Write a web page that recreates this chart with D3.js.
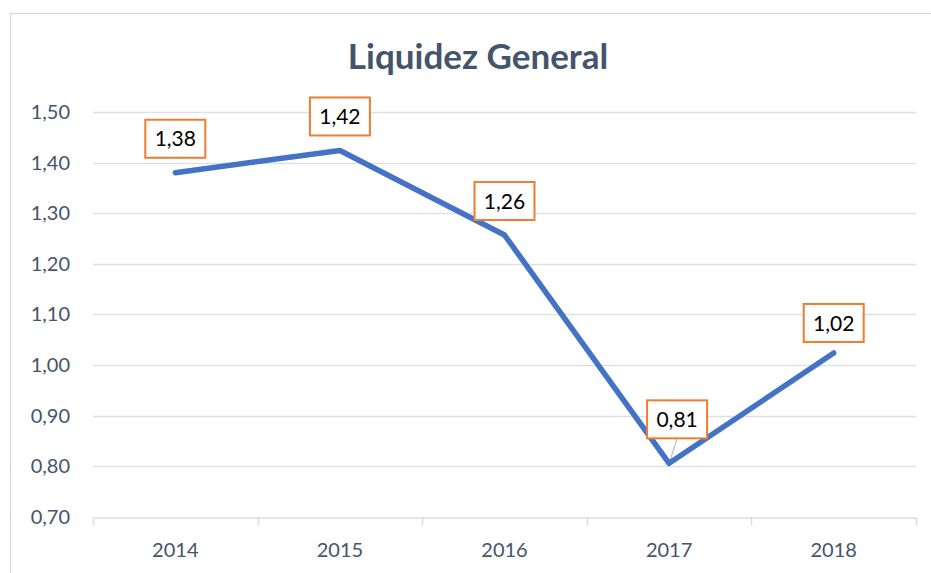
<!DOCTYPE html>
<html><head><meta charset="utf-8">
<script src="https://cdn.jsdelivr.net/npm/d3@7"></script>
<style>html,body{margin:0;padding:0;background:#fff;}svg{display:block;}</style>
</head><body>
<svg id="c" width="931" height="573"></svg>
<script>
const categories = ["2014","2015","2016","2017","2018"];
const values = [1.38, 1.424, 1.257, 0.806, 1.024];
const labels = ["1,38","1,42","1,26","0,81","1,02"];
const yTicks = [0.7,0.8,0.9,1.0,1.1,1.2,1.3,1.4,1.5];
const title = "Liquidez General";

const svg = d3.select("#c");
const m = {left: 93, right: 916, top: 112, bottom: 517};
const fmt = v => d3.format(".2f")(v).replace(".", ",");
const FONT = "Lato, 'Open Sans', sans-serif";

svg.append("rect").attr("x",10.5).attr("y",13.5).attr("width",960).attr("height",620)
  .attr("fill","#fff").attr("stroke","#D9DDE3").attr("stroke-width",1.5);

const x = d3.scaleBand().domain(categories).range([m.left, m.right]);
const y = d3.scaleLinear().domain([0.7,1.5]).range([m.bottom, m.top]);

svg.append("text").attr("x",478).attr("y",69).attr("text-anchor","middle")
  .attr("font-family",FONT).attr("font-weight","bold")
  .attr("font-size",35).attr("fill","#44546A").text(title);

// gridlines
svg.append("g").selectAll("line").data(yTicks.filter(t=>t>0.7)).join("line")
  .attr("x1",m.left).attr("x2",m.right)
  .attr("y1",d=>Math.round(y(d))+0.5).attr("y2",d=>Math.round(y(d))+0.5)
  .attr("stroke","#DDE1E7").attr("stroke-width",1.5);

// y axis labels
const yAxis = d3.axisLeft(y).tickValues(yTicks).tickFormat(fmt).tickSize(0).tickPadding(23);
const ya = svg.append("g").attr("transform",`translate(${m.left},0)`).call(yAxis);
ya.select(".domain").remove();
ya.selectAll("text").attr("font-family",FONT).attr("font-size",20).attr("fill","#44546A");

// x axis
const xAxis = d3.axisBottom(x).tickSize(0).tickPadding(25);
const xa = svg.append("g").attr("transform",`translate(0,${Math.round(m.bottom)+0.5})`).call(xAxis);
xa.select(".domain").attr("stroke","#D9DDE3").attr("stroke-width",1.5);
xa.selectAll("text").attr("font-family",FONT).attr("font-size",20).attr("fill","#44546A");
const edges = categories.map(c=>x(c)).concat([x(categories[categories.length-1])+x.bandwidth()]);
xa.selectAll("line.edge").data(edges).join("line").attr("class","edge")
  .attr("x1",d=>Math.round(d)+0.5).attr("x2",d=>Math.round(d)+0.5).attr("y1",0).attr("y2",8)
  .attr("stroke","#D9DDE3").attr("stroke-width",1.5);

const cx = c => x(c) + x.bandwidth()/2;
const pts = categories.map((c,i)=>[cx(c), y(values[i])]);

const boxOff = [[0,-34],[0,-34],[0,-34],[8,-44],[0,-30]];
svg.append("line").attr("x1",pts[3][0]).attr("y1",pts[3][1])
  .attr("x2",pts[3][0]+boxOff[3][0]).attr("y2",pts[3][1]+boxOff[3][1]+19)
  .attr("stroke","#B4BFCC").attr("stroke-width",1.2);

svg.append("path").datum(pts)
  .attr("d", d3.line())
  .attr("fill","none").attr("stroke","#4472C4").attr("stroke-width",5.5)
  .attr("stroke-linejoin","round").attr("stroke-linecap","round");

const lg = svg.append("g");
pts.forEach((p,i)=>{
  const bx = p[0]+boxOff[i][0], by = p[1]+boxOff[i][1];
  const g = lg.append("g").attr("transform",`translate(${bx},${by})`);
  g.append("rect").attr("x",-30).attr("y",-19).attr("width",60).attr("height",38)
    .attr("fill","#fff").attr("stroke","#ED7D31").attr("stroke-width",2);
  g.append("text").attr("text-anchor","middle").attr("dy","0.36em")
    .attr("font-family",FONT).attr("font-size",21)
    .attr("fill","#000").text(labels[i]);
});
</script>
</body></html>
